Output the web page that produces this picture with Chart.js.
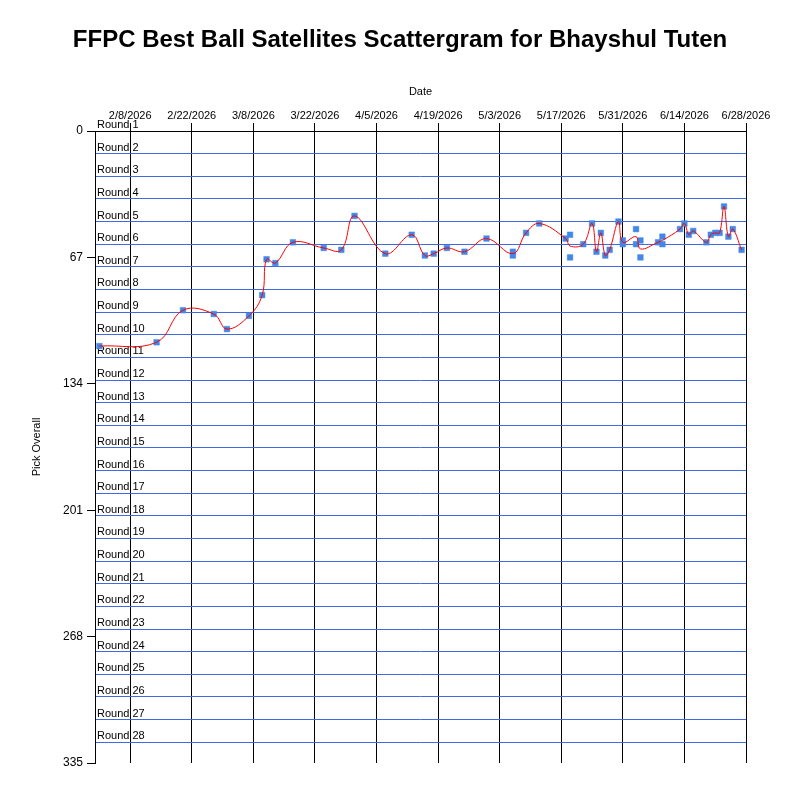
<!DOCTYPE html>
<html>
<head>
<meta charset="utf-8">
<title>FFPC Best Ball Satellites Scattergram</title>
<script src="https://cdn.jsdelivr.net/npm/chart.js@4.4.1/dist/chart.umd.min.js"></script>
<style>
  html, body { margin: 0; padding: 0; background: #fff; }
  canvas { display: block; }
</style>
</head>
<body>
<canvas id="scatterChart" width="800" height="800"></canvas>
<script>
// one entry per pick: draft date and overall pick number
const pickDates = [
  "2026-02-01", "2026-02-14", "2026-02-20", "2026-02-27", "2026-03-02",
  "2026-03-07", "2026-03-10", "2026-03-11", "2026-03-13", "2026-03-17",
  "2026-03-24", "2026-03-28", "2026-03-31", "2026-04-07", "2026-04-13",
  "2026-04-16", "2026-04-18", "2026-04-21", "2026-04-25", "2026-04-30",
  "2026-05-06", "2026-05-06", "2026-05-09", "2026-05-12", "2026-05-18",
  "2026-05-19", "2026-05-19", "2026-05-22", "2026-05-24", "2026-05-25",
  "2026-05-26", "2026-05-27", "2026-05-28", "2026-05-30", "2026-05-31",
  "2026-05-31", "2026-06-03", "2026-06-03", "2026-06-04", "2026-06-04",
  "2026-06-08", "2026-06-09", "2026-06-09", "2026-06-13", "2026-06-14",
  "2026-06-15", "2026-06-16", "2026-06-19", "2026-06-20", "2026-06-21",
  "2026-06-22", "2026-06-23", "2026-06-24", "2026-06-25", "2026-06-27"
];
const pickOverall = [
  114, 112, 95, 97, 105,
  98, 87, 68, 70, 59,
  62, 63, 45, 65, 55,
  66, 65, 62, 64, 57,
  64, 66, 54, 49, 57,
  55, 67, 60, 49, 64,
  54, 66, 63, 48, 58,
  60, 52, 60, 58, 67,
  59, 56, 60, 52, 49,
  55, 53, 59, 55, 54,
  54, 40, 56, 52, 63
];

const yTicks = [0, 67, 134, 201, 268, 335];
const roundNames = [];
for (let r = 1; r <= 28; r++) roundNames.push("Round " + r);
const picksPerRound = 12;

const startDate = "2026-01-31";
const endDate = "2026-06-28";
const firstTickDate = "2026-02-08";
const tickStepDays = 14;

const DAY = 86400000;
function dayOf(s) {
  const p = s.split("-").map(Number);
  return Math.round((Date.UTC(p[0], p[1] - 1, p[2]) - Date.UTC(2026, 1, 8)) / DAY);
}
function labelOf(v) {
  const d = new Date(Date.UTC(2026, 1, 8) + v * DAY);
  return (d.getUTCMonth() + 1) + "/" + d.getUTCDate() + "/" + d.getUTCFullYear();
}

const points = pickDates.map((s, i) => ({ x: dayOf(s), y: pickOverall[i] }));

// average pick per draft date for the trend line
const byDay = {};
points.forEach(p => {
  if (!byDay[p.x]) byDay[p.x] = [];
  byDay[p.x].push(p.y);
});
const averages = Object.keys(byDay).map(Number).sort((a, b) => a - b)
  .map(x => ({ x: x, y: byDay[x].reduce((a, b) => a + b, 0) / byDay[x].length }));

const roundLabels = {
  id: "roundLabels",
  beforeDatasetsDraw(chart) {
    const ctx = chart.ctx;
    const ys = chart.scales.y;
    ctx.save();
    ctx.font = "11px 'Liberation Sans', Arial, sans-serif";
    ctx.fillStyle = "#000";
    ctx.textAlign = "left";
    ctx.textBaseline = "alphabetic";
    roundNames.forEach((name, i) => {
      ctx.fillText(name, chart.chartArea.left + 2, ys.getPixelForValue(i * picksPerRound) - 3);
    });
    ctx.restore();
  }
};

Chart.defaults.color = "#000";
Chart.defaults.font.family = "'Liberation Sans', Arial, sans-serif";

new Chart(document.getElementById("scatterChart").getContext("2d"), {
  type: "scatter",
  data: {
    datasets: [
      {
        type: "line",
        label: "Average",
        data: averages,
        borderColor: "#ff0000",
        borderWidth: 1,
        tension: 0.4,
        pointRadius: 0,
        fill: false,
        order: 0
      },
      {
        label: "Picks",
        data: points,
        pointStyle: "rect",
        pointRadius: 4,
        backgroundColor: "rgb(66, 136, 232)",
        borderColor: "rgba(66, 136, 232, 0.45)",
        borderWidth: 1,
        order: 1
      }
    ]
  },
  options: {
    responsive: false,
    animation: false,
    devicePixelRatio: 1,
    layout: { padding: { left: 0, right: 0, top: 0, bottom: 37 } },
    plugins: {
      legend: { display: false },
      tooltip: { enabled: false },
      title: {
        display: true,
        text: "FFPC Best Ball Satellites Scattergram for Bhayshul Tuten",
        font: { size: 24, weight: "bold", lineHeight: 1.2 },
        padding: { top: 25.6, bottom: 0 }
      }
    },
    scales: {
      x: {
        type: "linear",
        position: "top",
        min: dayOf(startDate),
        max: dayOf(endDate),
        afterBuildTicks(scale) {
          const t = [];
          for (let v = dayOf(firstTickDate); v <= dayOf(endDate); v += tickStepDays) t.push({ value: v });
          scale.ticks = t;
        },
        afterFit(scale) { scale.height = 131 - 54.4; },
        ticks: {
          font: { size: 11 },
          padding: 0,
          maxRotation: 0,
          autoSkip: false,
          callback: v => labelOf(v)
        },
        grid: { color: "#000", lineWidth: 1, tickLength: 8 },
        border: { display: true, color: "#000" },
        title: {
          display: true,
          text: "Date",
          font: { size: 11 },
          padding: { top: 30.7, bottom: 0 }
        }
      },
      y: {
        type: "linear",
        position: "left",
        reverse: true,
        min: 0,
        max: 335,
        afterBuildTicks(scale) { scale.ticks = yTicks.map(v => ({ value: v })); },
        afterFit(scale) { scale.width = 95; },
        ticks: { font: { size: 12 }, padding: 4, autoSkip: false },
        grid: { drawOnChartArea: false, color: "#000", tickLength: 8 },
        border: { display: true, color: "#000" },
        title: {
          display: true,
          text: "Pick Overall",
          font: { size: 11 },
          padding: { top: 30, bottom: 0 }
        }
      },
      rounds: {
        type: "linear",
        position: "left",
        reverse: true,
        min: 0,
        max: 335,
        afterBuildTicks(scale) {
          const t = [];
          for (let v = picksPerRound; v < 335; v += picksPerRound) t.push({ value: v });
          scale.ticks = t;
        },
        afterFit(scale) { scale.width = 0; },
        ticks: { display: false },
        grid: { color: "royalblue", lineWidth: 1, drawTicks: false },
        border: { display: false }
      },
      // empty right-hand axis, only to keep the margin beside the plot
      spacer: {
        type: "linear",
        position: "right",
        afterFit(scale) { scale.width = 54; },
        ticks: { display: false },
        grid: { display: false },
        border: { display: false }
      }
    }
  },
  plugins: [roundLabels]
});
</script>
</body>
</html>
